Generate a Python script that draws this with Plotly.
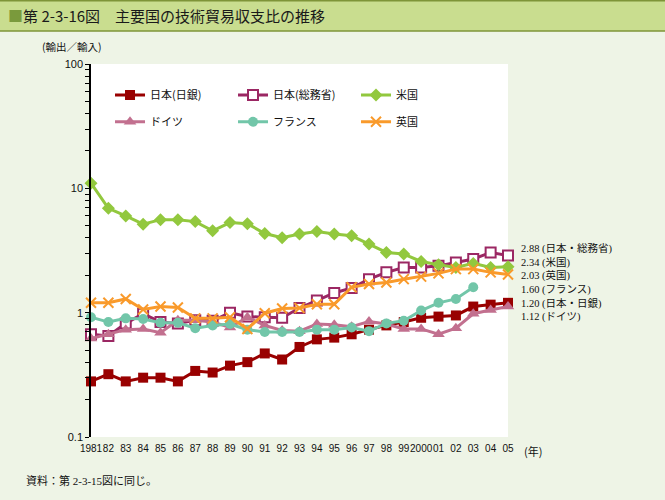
import plotly.graph_objects as go

years = list(range(1981, 2006))
year_labels = ["1981", "82", "83", "84", "85", "86", "87", "88", "89", "90", "91", "92", "93",
               "94", "95", "96", "97", "98", "99", "2000", "01", "02", "03", "04", "05"]

jp_boj = [0.28, 0.32, 0.28, 0.30, 0.30, 0.28, 0.34, 0.33, 0.375, 0.40, 0.47, 0.42, 0.53,
          0.61, 0.63, 0.67, 0.73, 0.79, 0.84, 0.91, 0.93, 0.95, 1.12, 1.16, 1.20]
jp_mic = [0.67, 0.65, 0.82, 0.98, 0.84, 0.82, 0.87, 0.86, 1.00, 0.93, 0.92, 0.91, 1.09,
          1.25, 1.44, 1.58, 1.86, 2.11, 2.31, 2.31, 2.38, 2.53, 2.70, 3.05, 2.88]
us = [11.0, 6.9, 6.0, 5.15, 5.6, 5.6, 5.4, 4.56, 5.3, 5.2, 4.33, 4.0, 4.29,
      4.5, 4.29, 4.15, 3.56, 3.05, 2.96, 2.58, 2.43, 2.31, 2.49, 2.31, 2.34]
germany = [0.62, 0.67, 0.73, 0.74, 0.69, 0.87, 0.87, 0.84, 0.76, 0.92, 0.79, 0.72, 0.71,
           0.81, 0.80, 0.77, 0.85, 0.81, 0.74, 0.74, 0.67, 0.75, 0.98, 1.05, 1.12]
france = [0.92, 0.84, 0.90, 0.89, 0.83, 0.83, 0.75, 0.79, 0.81, 0.73, 0.70, 0.70, 0.70,
          0.73, 0.73, 0.76, 0.71, 0.82, 0.86, 1.04, 1.20, 1.29, 1.60, None, None]
uk = [1.20, 1.20, 1.29, 1.06, 1.12, 1.10, 0.90, 0.90, 0.92, 0.74, 0.99, 1.08, 1.09,
      1.17, 1.17, 1.60, 1.70, 1.75, 1.86, 1.95, 2.07, 2.24, 2.24, 2.11, 2.03]

series_names = ["日本(日銀)", "日本(総務省)", "米国", "ドイツ", "フランス", "英国"]
series_values = [jp_boj, jp_mic, us, germany, france, uk]
series_colors = ["#990000", "#9B2763", "#92C83E", "#C2708F", "#72C6A9", "#F99A2B"]
series_symbols = ["square", "square-open", "diamond", "triangle-up", "circle", "x-thin-open"]
series_legend = ["legend", "legend", "legend", "legend2", "legend2", "legend2"]

end_labels = ["2.88 (日本・総務省)", "2.34 (米国)", "2.03 (英国)",
              "1.60 (フランス)", "1.20 (日本・日銀)", "1.12 (ドイツ)"]

y_tickvals = [0.1, 1, 10, 100]
y_ticktext = ["0.1", "1", "10", "100"]
y_minor = [m * 10 ** e for e in (-1, 0, 1) for m in range(2, 10)]

cjk = "Noto Sans CJK JP"
serif = "Liberation Serif, Noto Sans CJK JP"

fig = go.Figure()
for name, vals, col, sym, lg in zip(series_names, series_values, series_colors,
                                     series_symbols, series_legend):
    marker = dict(symbol=sym, size=10, color=col)
    if sym == "square-open":
        marker = dict(symbol="square", size=10, color="white", line=dict(color=col, width=2))
    elif sym == "x-thin-open":
        marker = dict(symbol="x-thin-open", size=10, color=col, line=dict(color=col, width=2))
    elif sym == "triangle-up":
        marker = dict(symbol=sym, size=11, color=col)
    fig.add_trace(go.Scatter(
        x=years, y=vals, name=name, mode="lines+markers",
        line=dict(color=col, width=3), marker=marker,
        cliponaxis=False, legend=lg, connectgaps=False,
    ))

fig.update_layout(
    width=665, height=500,
    margin=dict(l=91, r=157, t=64, b=63, autoexpand=False),
    paper_bgcolor="#EEF4E6",
    plot_bgcolor="white",
    font=dict(family=cjk, size=11, color="#111"),
    legend=dict(orientation="h", x=0.0456, y=0.917, xanchor="left", yanchor="middle",
                bgcolor="rgba(0,0,0,0)", entrywidth=78, entrywidthmode="pixels",
                itemwidth=30, font=dict(family=cjk, size=11, color="#111"),
                traceorder="normal"),
    legend2=dict(orientation="h", x=0.0456, y=0.845, xanchor="left", yanchor="middle",
                 bgcolor="rgba(0,0,0,0)", entrywidth=78, entrywidthmode="pixels",
                 itemwidth=30, font=dict(family=cjk, size=11, color="#111"),
                 traceorder="normal"),
    showlegend=True,
)

fig.update_xaxes(
    range=[1981, 2005], tickvals=years, ticktext=year_labels, tickangle=0,
    showline=False, showgrid=False, zeroline=False, ticks="", automargin=False,
    tickfont=dict(family="Liberation Sans Narrow, Liberation Sans", size=10, color="#111"),
    ticklabelstandoff=4,
)
fig.update_yaxes(
    type="log", range=[-1, 2], automargin=False,
    tickvals=y_tickvals + y_minor,
    ticktext=y_ticktext + [""] * len(y_minor),
    ticks="outside", ticklen=4, tickcolor="black", tickwidth=1,
    showline=True, linecolor="black", linewidth=1.5,
    showgrid=False, zeroline=False,
    tickfont=dict(family="Liberation Sans", size=11, color="#111"),
)

shapes = [
    dict(type="line", xref="paper", yref="y", x0=0, x1=1, y0=0, y1=0,
         line=dict(color="black", width=1.2), layer="below"),
    dict(type="rect", xref="paper", yref="paper", x0=-0.3, x1=1.5,
         y0=(437 - 31) / 373, y1=1.3, fillcolor="#C9DD8F",
         line=dict(width=0), layer="below"),
    dict(type="line", xref="paper", yref="paper", x0=-0.3, x1=1.5,
         y0=(437 - 31) / 373, y1=(437 - 31) / 373, line=dict(color="#7E9438", width=1.5)),
    dict(type="line", xref="paper", yref="paper", x0=-0.3, x1=1.5,
         y0=(437 - 0.75) / 373, y1=(437 - 0.75) / 373, line=dict(color="#7E9438", width=1.5)),
]
fig.update_layout(shapes=shapes)

annotations = [
    dict(text="<span style='color:#7A9A3C'>■</span>第 2-3-16図　主要国の技術貿易収支比の推移",
         xref="paper", yref="paper", x=(6 - 91) / 417, y=(437 - 16) / 373,
         xanchor="left", yanchor="middle", showarrow=False,
         font=dict(family=cjk, size=15, color="#1a1a1a")),
    dict(text="(輸出／輸入)", xref="paper", yref="paper", x=(40 - 91) / 417,
         y=(437 - 47) / 373, xanchor="left", yanchor="middle", showarrow=False,
         font=dict(family=cjk, size=10.5, color="#111")),
    dict(text="(年)", xref="paper", yref="paper", x=(522 - 91) / 417,
         y=(437 - 451) / 373, xanchor="left", yanchor="middle", showarrow=False,
         font=dict(family=cjk, size=11, color="#111")),
    dict(text="資料：第 2-3-15図に同じ。", xref="paper", yref="paper", x=(24 - 91) / 417,
         y=(437 - 480) / 373, xanchor="left", yanchor="middle", showarrow=False,
         font=dict(family=serif, size=11, color="#111")),
    dict(text="<br>".join(end_labels), xref="paper", yref="paper", x=(519 - 91) / 417,
         y=(437 - 282) / 373, xanchor="left", yanchor="middle", align="left",
         showarrow=False, font=dict(family=serif, size=10.5, color="#111")),
]
fig.update_layout(annotations=annotations)

fig.write_html("out.html", config={"displayModeBar": False},
               post_script="document.body.style.margin='0';")
